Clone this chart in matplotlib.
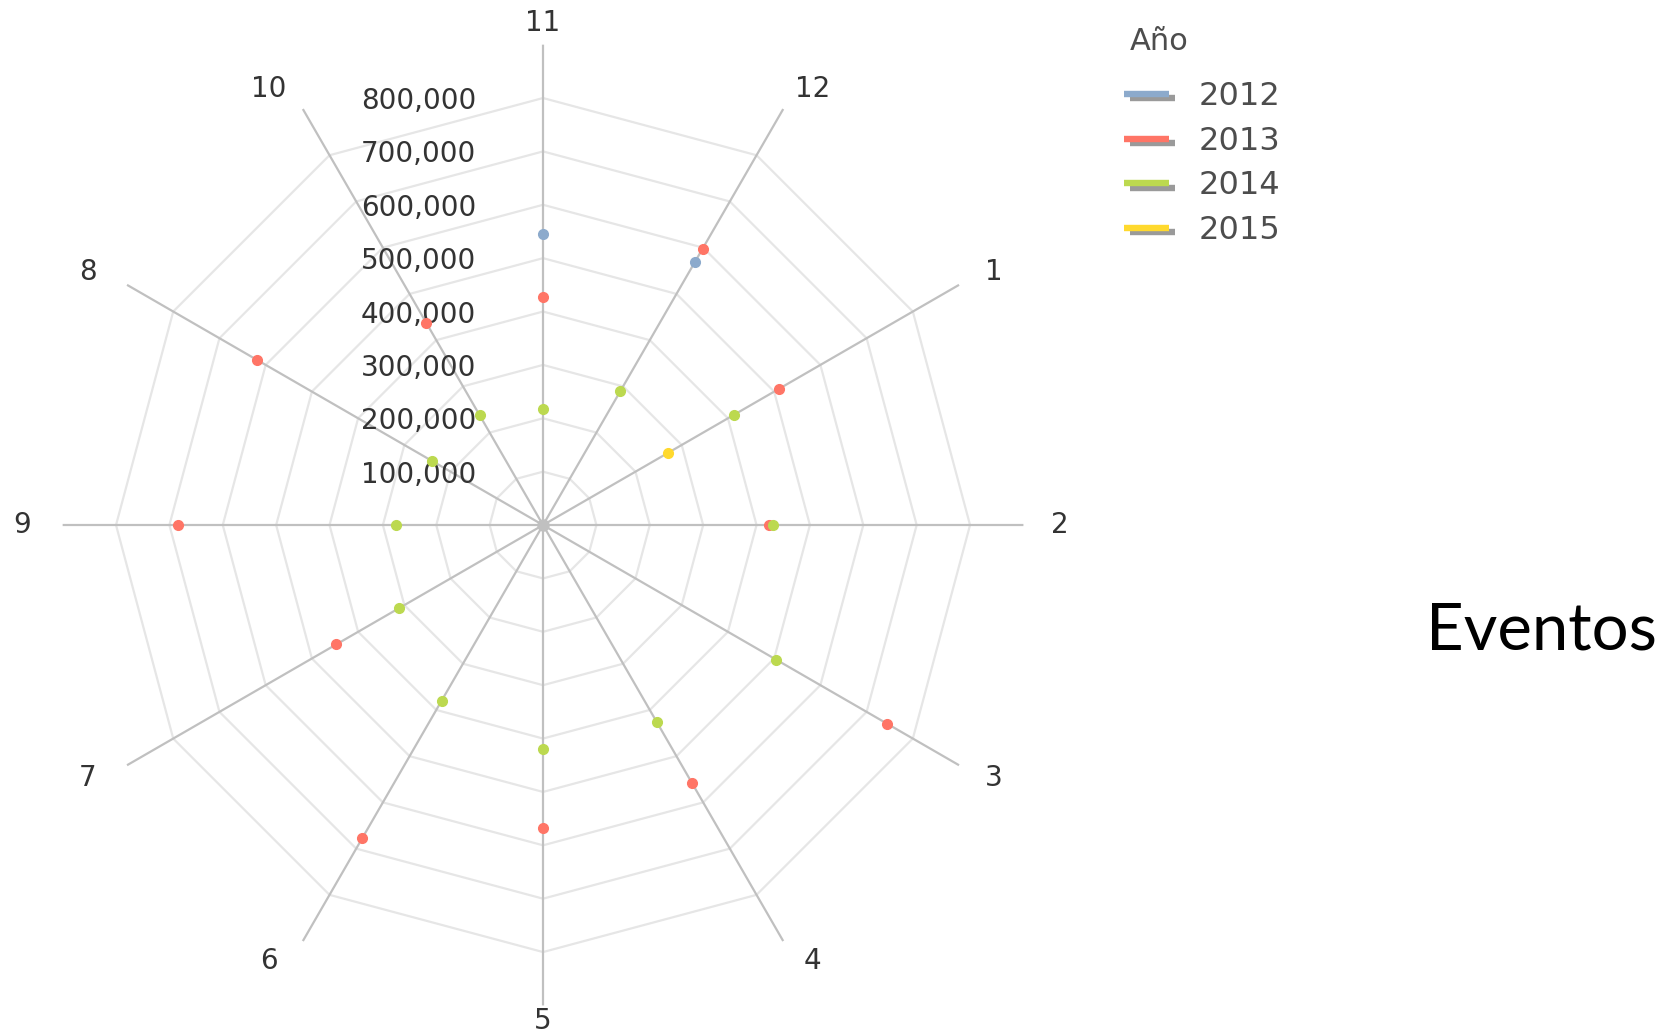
import numpy as np
import matplotlib
matplotlib.use('Agg')
import matplotlib.pyplot as plt
import matplotlib.patheffects as pe
from matplotlib.lines import Line2D
from matplotlib.transforms import offset_copy

# months in the order they sit around the radar, clockwise from the top
months = ['11', '12', '1', '2', '3', '4', '5', '6', '7', '9', '8', '10']
years = ['2012', '2013', '2014', '2015']
colors = ['#8caacc', '#ff7566', '#bcd94f', '#ffd92e']

nan = np.nan
ev_2012 = [545000, 568000, nan, nan, nan, nan, nan, nan, nan, nan, nan, nan]
ev_2013 = [428000, 598000, 511000, 423000, 745000, 557000, 568000, 677000, 447000, 683000, 619000, 437000]
ev_2014 = [217000, 290000, 413000, 430000, 505000, 427000, 420000, 380000, 312000, 275000, 241000, 237000]
ev_2015 = [nan, nan, 270000, nan, nan, nan, nan, nan, nan, nan, nan, nan]
series = [ev_2012, ev_2013, ev_2014, ev_2015]

levels = [100000, 200000, 300000, 400000, 500000, 600000, 700000, 800000]
r_spoke = 900000

plt.rcParams['font.family'] = 'DejaVu Sans'

fig = plt.figure(figsize=(16.66, 10.36), dpi=100)
ax = fig.add_axes([0.0376, 0.0295, 0.5767, 0.9274], projection='polar')
ax.set_theta_zero_location('N')
ax.set_theta_direction(-1)
ax.set_ylim(0, r_spoke)
ax.grid(False)
ax.set_xticks([])
ax.set_yticks([])
ax.spines['polar'].set_visible(False)
ax.patch.set_visible(False)

theta = np.arange(len(months)) * 2 * np.pi / len(months)
theta_closed = np.append(theta, theta[0])

# polygon rings
for lv in levels:
    ax.plot(theta_closed, [lv] * len(theta_closed), color='#e6e6e6', lw=1.6, zorder=1)

# spokes
for t in theta:
    ax.plot([t, t], [0, r_spoke], color='#c0c0c0', lw=1.6, zorder=2)
ax.plot([0], [0], 'o', color='#c0c0c0', ms=8, zorder=2)

# month labels just past the end of each spoke
for t, m in zip(theta, months):
    s, c = np.sin(t), np.cos(t)
    ox = 36 * np.sign(s) * abs(s) ** 0.3
    if s < -0.1:
        ox -= 5
    oy = 22 * np.sign(c) * abs(c) ** 0.8
    if c < -0.99:
        oy = -16   # keep the bottom label inside the figure
    tr = offset_copy(ax.transData, fig=fig, x=ox, y=oy, units='dots')
    ax.text(t, r_spoke, m, transform=tr, ha='center', va='center', fontsize=20,
            color='#333333', clip_on=False)

# value labels on the top spoke
lab_tr = offset_copy(ax.transData, fig=fig, x=-67, y=-3, units='dots')
for lv in levels:
    ax.text(0, lv, f'{lv:,}', transform=lab_tr, ha='right', va='center',
            fontsize=20, color='#333333', clip_on=False)

for vals, c in zip(series, colors):
    ax.plot(theta, vals, 'o', color=c, ms=7, mec=c, zorder=3, clip_on=False)

shadow = [pe.SimpleLineShadow(offset=(4.3, -3.2), shadow_color='#9a9a9a', alpha=1.0), pe.Normal()]
handles = [Line2D([], [], color=c, lw=4.6, solid_capstyle='butt', path_effects=shadow) for c in colors]
leg = fig.legend(handles, years, loc='upper left', bbox_to_anchor=(1108 / 1666, 1 - 65 / 1036),
                 frameon=False, fontsize=23, handlelength=1.41, handletextpad=0.94,
                 labelspacing=0.43, borderpad=0)
for t in leg.get_texts():
    t.set_color('#4d4d4d')
fig.text(1130 / 1666, 1 - 42 / 1036, 'Año', fontsize=22, color='#4d4d4d', ha='left', va='center')

fig.text(1426 / 1666, 1 - 650 / 1036, 'Eventos', family='Lato', fontsize=47, color='black',
         ha='left', va='baseline')

fig.savefig('out.png', dpi=100)
